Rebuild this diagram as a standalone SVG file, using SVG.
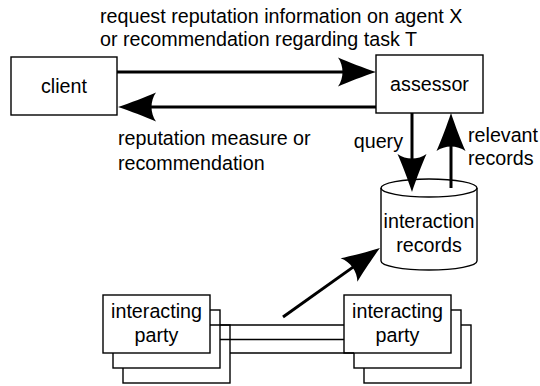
<svg xmlns="http://www.w3.org/2000/svg" width="540" height="386" viewBox="0 0 540 386">
  <style>
    text { font-family: "Liberation Sans", Arial, Helvetica, sans-serif; font-size: 19.7px; fill: #000; }
    .mid { text-anchor: middle; }
    .end { text-anchor: end; }
    .box { fill: #fff; stroke: #000; stroke-width: 1.4; }
    .wire { fill: none; stroke: #000; stroke-width: 1.4; }
    .arrow { fill: none; stroke: #000; stroke-width: 3; marker-end: url(#head); }
  </style>
  <defs>
    <!-- filled arrowhead with a hollowed back; tip sits 30px beyond the line end -->
    <marker id="head" markerUnits="userSpaceOnUse" orient="auto" refX="0" refY="0"
            markerWidth="60" markerHeight="40" viewBox="-10 -20 60 40" overflow="visible">
      <path d="M30,0 C18,-4 2,-10 -8,-14.5 C-2,-6 -2,6 -8,14.5 C2,10 18,4 30,0 Z" fill="#000"/>
    </marker>
  </defs>

  <rect width="540" height="386" fill="#fff"/>

  <!-- labels -->
  <g id="labels">
    <text x="100" y="22.5">request reputation information on agent X</text>
    <text x="100" y="46">or recommendation regarding task T</text>
    <text x="118" y="145">reputation measure or</text>
    <text x="118" y="170">recommendation</text>
    <text x="403" y="148" class="end">query</text>
    <text x="468" y="142">relevant</text>
    <text x="468" y="165">records</text>
  </g>

  <g id="client">
    <rect class="box" x="11" y="57" width="106" height="58"/>
    <text x="64" y="93" class="mid">client</text>
  </g>

  <g id="assessor">
    <rect class="box" x="376" y="55" width="107" height="58"/>
    <text x="429.5" y="91" class="mid">assessor</text>
  </g>

  <g id="interaction-records">
    <path class="box" d="M381,188 A48,9 0 0,1 477,188 L477,261 A48,9 0 0,1 381,261 Z"/>
    <path class="wire" d="M381,188 A48,9 0 0,0 477,188"/>
    <text x="429" y="228" class="mid">interaction</text>
    <text x="429" y="252" class="mid">records</text>
  </g>

  <g id="party-left">
    <rect class="box" x="123" y="325" width="107" height="58"/>
    <rect class="box" x="113" y="310" width="107" height="58"/>
    <rect class="box" x="103" y="295" width="107" height="58"/>
    <text x="156.5" y="318" class="mid">interacting</text>
    <text x="156.5" y="342" class="mid">party</text>
  </g>

  <g id="party-right">
    <rect class="box" x="364" y="325" width="107" height="58"/>
    <rect class="box" x="354" y="310" width="107" height="58"/>
    <rect class="box" x="344" y="295" width="107" height="58"/>
    <text x="397.5" y="318" class="mid">interacting</text>
    <text x="397.5" y="342" class="mid">party</text>
  </g>

  <g id="connectors">
    <line class="arrow" x1="117" y1="72" x2="346" y2="72"/>
    <line class="arrow" x1="376" y1="107" x2="148" y2="107"/>
    <line class="arrow" x1="412" y1="113" x2="412" y2="162"/>
    <line class="arrow" x1="451" y1="188" x2="451" y2="143"/>
    <line class="arrow" x1="283" y1="317" x2="355.5" y2="265.4"/>
    <line class="wire" x1="210" y1="325" x2="344" y2="325"/>
    <line class="wire" x1="220" y1="339.5" x2="344" y2="339.5"/>
    <line class="wire" x1="230" y1="353" x2="354" y2="353"/>
  </g>
</svg>
